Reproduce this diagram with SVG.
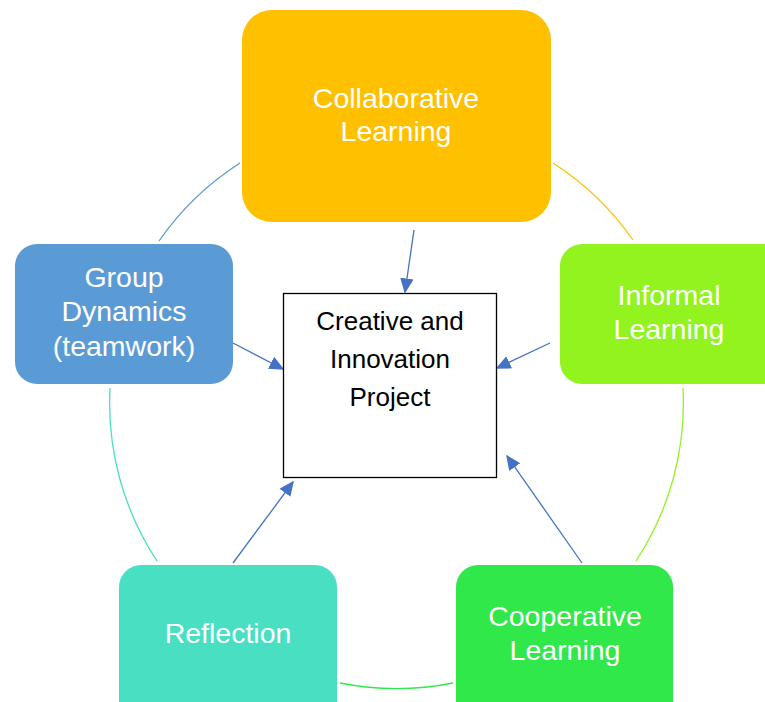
<svg xmlns="http://www.w3.org/2000/svg" width="765" height="702" viewBox="0 0 765 702">
<defs>
<style>
.lbl{font-family:"Liberation Sans",Arial,sans-serif;font-size:28.5px;fill:#ffffff;text-anchor:middle}
.ctr{font-family:"Liberation Sans",Arial,sans-serif;font-size:26px;fill:#000000;text-anchor:middle}
.arc{fill:none;stroke-width:1.3}
.arr{fill:none;stroke:#4472C4;stroke-width:1.3;marker-end:url(#ah)}
</style>
<marker id="ah" viewBox="0 0 10 10" refX="9" refY="5" markerWidth="15" markerHeight="15" markerUnits="userSpaceOnUse" orient="auto">
<path d="M0,0.5 L10,5 L0,9.5 Z" fill="#4472C4"/>
</marker>
</defs>
<rect width="765" height="702" fill="#ffffff"/>
<g id="connectors">
<path class="arc" stroke="#5B9BD5" d="M159,241 A287,287 0 0 1 240,163"/>
<path class="arc" stroke="#FFC000" d="M553,163 A287,287 0 0 1 633,240"/>
<path class="arc" stroke="#92F31F" d="M683,388 A287,287 0 0 1 636,561"/>
<path class="arc" stroke="#31E84A" d="M453,683 A287,287 0 0 1 340,683"/>
<path class="arc" stroke="#48DFC3" d="M157,561 A287,287 0 0 1 110,388"/>
<path class="arr" d="M414,230 L405,292"/>
<path class="arr" d="M233,343 L283,369"/>
<path class="arr" d="M550,343 L497,368"/>
<path class="arr" d="M233,563 L293,482"/>
<path class="arr" d="M582,563 L507,456"/>
</g>
<g id="center">
<rect x="283.5" y="293.5" width="213" height="184" fill="#ffffff" stroke="#000000" stroke-width="1.3"/>
<text class="ctr" x="390" y="330">Creative and</text>
<text class="ctr" x="390" y="368">Innovation</text>
<text class="ctr" x="390" y="406">Project</text>
</g>
<g id="collaborative">
<rect x="242" y="10" width="309" height="212" rx="30" fill="#FFC000"/>
<text class="lbl" x="396" y="108">Collaborative</text>
<text class="lbl" x="396" y="141">Learning</text>
</g>
<g id="informal">
<rect x="560" y="244" width="230" height="140" rx="22" fill="#92F31F"/>
<text class="lbl" x="669" y="305">Informal</text>
<text class="lbl" x="669" y="339">Learning</text>
</g>
<g id="group">
<rect x="15" y="244" width="218" height="140" rx="22" fill="#5B9BD5"/>
<text class="lbl" x="124" y="287">Group</text>
<text class="lbl" x="124" y="321">Dynamics</text>
<text class="lbl" x="124" y="356">(teamwork)</text>
</g>
<g id="reflection">
<rect x="119" y="565" width="218" height="160" rx="22" fill="#48DFC3"/>
<text class="lbl" x="228" y="643">Reflection</text>
</g>
<g id="cooperative">
<rect x="456" y="565" width="217" height="160" rx="22" fill="#31E84A"/>
<text class="lbl" x="565" y="626">Cooperative</text>
<text class="lbl" x="565" y="660">Learning</text>
</g>
</svg>
